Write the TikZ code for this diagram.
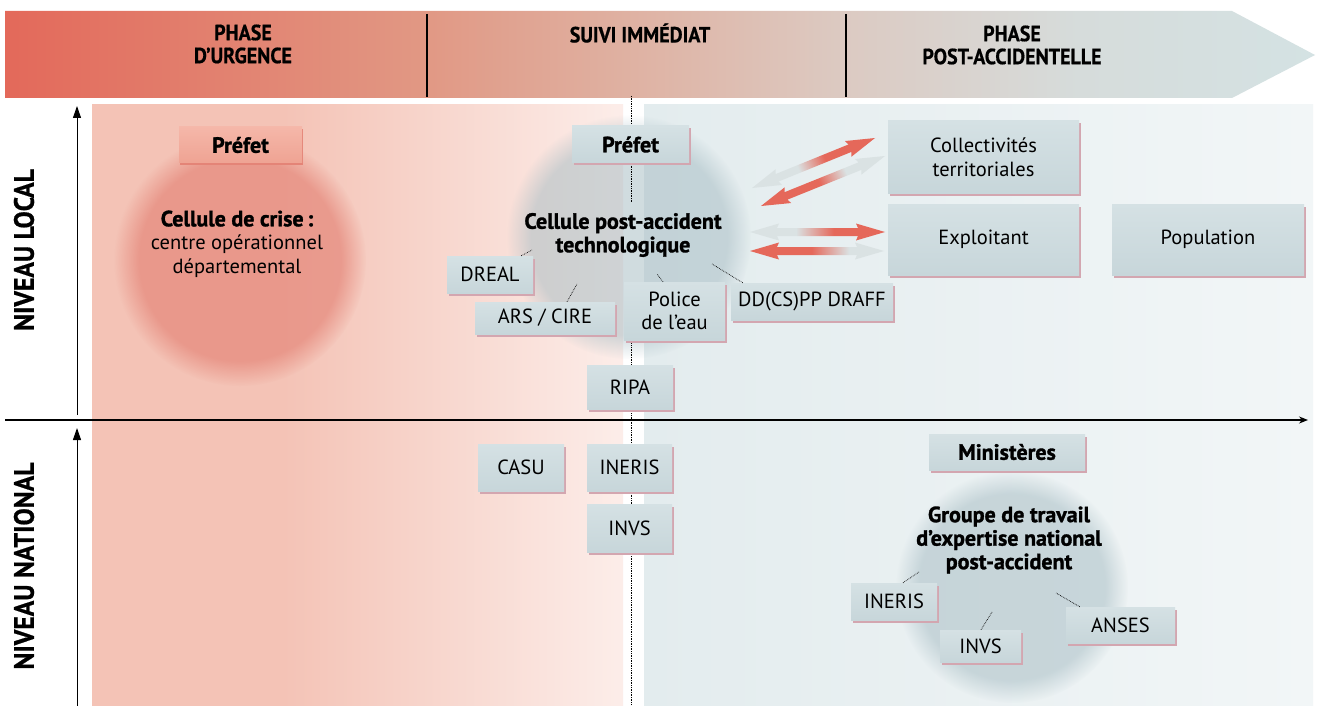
\documentclass[tikz,border=0pt]{standalone}
\usepackage{fontspec}
\setmainfont{PT Sans}
\newfontfamily\headfont[FakeStretch=0.91,FakeBold=0.6]{PT Sans}
\newfontfamily\vertfont[FakeStretch=0.92,FakeBold=0.6]{PT Sans}
\newfontfamily\heavyfont[FakeBold=1.4]{PT Sans}
\usetikzlibrary{shadows,fadings,calc,arrows.meta}
\definecolor{bn1}{HTML}{E3695A}
\definecolor{bn2}{HTML}{E19884}
\definecolor{bn3}{HTML}{DFB2A3}
\definecolor{bn4}{HTML}{DCCAC2}
\definecolor{bn5}{HTML}{D6DCDB}
\definecolor{bn6}{HTML}{D4E2E3}
\definecolor{lp1}{HTML}{F4C3B6}
\definecolor{lp2}{HTML}{FCEDE9}
\definecolor{rp1}{HTML}{E3ECEE}
\definecolor{rp2}{HTML}{F2F6F7}
\definecolor{boxtop}{HTML}{D5E1E4}
\definecolor{boxbot}{HTML}{C7D6DA}
\definecolor{boxsh}{HTML}{D3A6B0}
\definecolor{saltop}{HTML}{F5B7A9}
\definecolor{salbot}{HTML}{EFA393}
\definecolor{salsh}{HTML}{E48477}
\definecolor{ared}{HTML}{E5685A}
\definecolor{agrey}{HTML}{DAE2E3}
\definecolor{cred}{HTML}{E5877A}
\definecolor{cblue}{HTML}{A6BCC3}
\pgfdeclarehorizontalshading{banner}{100bp}{color(0bp)=(bn1); color(25bp)=(bn1); color(41bp)=(bn2); color(49bp)=(bn3); color(57bp)=(bn4); color(66bp)=(bn5); color(75bp)=(bn6); color(100bp)=(bn6)}
\pgfdeclarehorizontalshading{leftpanel}{100bp}{color(0bp)=(lp1); color(25bp)=(lp1); color(43bp)=(lp1); color(75bp)=(lp2); color(100bp)=(lp2)}
\pgfdeclarehorizontalshading{gr}{100bp}{color(0bp)=(agrey); color(42bp)=(agrey); color(56bp)=(ared); color(100bp)=(ared)}
\pgfdeclarehorizontalshading{rg}{100bp}{color(0bp)=(ared); color(48bp)=(ared); color(62bp)=(agrey); color(100bp)=(agrey)}
\newcommand\fatarrow[3]{%
  \path[#3] (#1)
    -- ($(#1)!29pt!(#2)!8.5pt!90:(#2)$)
    -- ($(#1)!27pt!(#2)!4pt!90:(#2)$)
    -- ($(#2)!27pt!(#1)!4pt!-90:(#1)$)
    -- ($(#2)!29pt!(#1)!8.5pt!-90:(#1)$)
    -- (#2)
    -- ($(#2)!29pt!(#1)!8.5pt!90:(#1)$)
    -- ($(#2)!27pt!(#1)!4pt!90:(#1)$)
    -- ($(#1)!27pt!(#2)!4pt!-90:(#2)$)
    -- ($(#1)!29pt!(#2)!8.5pt!-90:(#2)$)
    -- cycle;}
\newcommand\bodysize{\fontsize{20.5}{23.5}\selectfont}
\newcommand\heavysize{\heavyfont\bfseries\fontsize{22}{23.5}\selectfont}
\newcommand\headsize{\headfont\bfseries\fontsize{22}{23}\selectfont}
\begin{document}
\begin{tikzpicture}[x=1pt,y=-1pt,
  box/.style={rectangle, inner sep=0pt, align=center, font=\bodysize,
    top color=boxtop, bottom color=boxbot,
    general shadow={fill=boxsh, shadow xshift=1.5pt, shadow yshift=-2.5pt}},
  salbox/.style={rectangle, inner sep=0pt, align=center, font=\heavysize,
    top color=saltop, bottom color=salbot,
    general shadow={fill=salsh, shadow xshift=1pt, shadow yshift=-2.5pt}},
  dotcon/.style={densely dotted, line width=0.7pt, black},
  head/.style={font=\headsize, align=center, text=black},
  vhead/.style={font=\vertfont\bfseries\fontsize{28}{30}\selectfont, rotate=90, text=black},
  axis/.style={line width=1pt, black}]
\useasboundingbox (0,0) rectangle (1320,706);
\fill[white] (0,0) rectangle (1320,706);
% banner
\shade[shading=banner] (5,11) -- (1232,11) -- (1315,55) -- (1232,98) -- (5,98) -- cycle;
\draw[line width=1.3pt] (427,14) -- (427,97);
\draw[line width=1.3pt] (846,14) -- (846,97);
\node[head] (ph1) at (243,44) {PHASE\\D’URGENCE};
\node[head] (ph2) at (640,33) {SUIVI IMMÉDIAT};
\node[head] (ph3) at (1012,45) {PHASE\\POST-ACCIDENTELLE};
% panels
\shade[shading=leftpanel] (92,105) rectangle (623,706);
\shade[left color=rp1, right color=rp2] (644,105) rectangle (1313,706);
% circles
\fill[cred, fill opacity=0.7, path fading=circle with fuzzy edge 20 percent] (240,260) circle (126);
\fill[cblue, fill opacity=0.52, path fading=circle with fuzzy edge 20 percent] (629,237) circle (122);
\fill[cblue, fill opacity=0.52, path fading=circle with fuzzy edge 20 percent] (1012,587) circle (116);
% axes
\draw[axis, line width=1.2pt, -{Stealth[length=9pt,width=7pt]}] (5,420) -- (1308,420);
\draw[axis, -{Triangle[length=12pt,width=8pt]}] (77,415) -- (77,106);
\draw[axis, -{Triangle[length=12pt,width=8pt]}] (77,706) -- (77,428);
\node[vhead] (nl) at (24,250) {NIVEAU LOCAL};
\node[vhead] (nn) at (24,566) {NIVEAU NATIONAL};
% vertical dotted line
\coordinate (vtop) at (631,96);
\coordinate (vm1) at (631,202);
\coordinate (vm2) at (631,340);
\coordinate (vbot) at (631,706);
\draw[dotcon] (vtop) -- (vm1);
\draw[dotcon] (vm2) -- (vbot);
% fat arrows
\coordinate (a1s) at (752,188); \coordinate (a1e) at (875,138);
\coordinate (a2s) at (761,206); \coordinate (a2e) at (885,156);
\coordinate (a3s) at (750,232); \coordinate (a3e) at (885,232);
\coordinate (a4s) at (750,251); \coordinate (a4e) at (884,251);
\fatarrow{a1s}{a1e}{shade, shading=gr, shading angle=22}
\fatarrow{a2s}{a2e}{shade, shading=rg, shading angle=22}
\fatarrow{a3s}{a3e}{shade, shading=gr, shading angle=0}
\fatarrow{a4s}{a4e}{shade, shading=rg, shading angle=0}
% boxes
\node[salbox, minimum width=123pt, minimum height=36pt] (prefetL) at (240.5,145) {Préfet};
\node[box, font=\heavysize, minimum width=117pt, minimum height=37pt] (prefetM) at (630.5,144.5) {Préfet};
\node[box, minimum width=191pt, minimum height=72pt] (collect) at (983.5,157) {Collectivités\\territoriales};
\node[box, minimum width=191pt, minimum height=71pt] (exploit) at (983.5,239.5) {Exploitant};
\node[box, minimum width=192pt, minimum height=71pt] (popul) at (1208,239.5) {Population};
\node[box, minimum width=86pt, minimum height=37pt] (dreal) at (490,274.5) {DREAL};
\node[box, minimum width=140pt, minimum height=32pt] (ars) at (545,318) {ARS / CIRE};
\node[box, minimum width=101pt, minimum height=58pt] (police) at (674.5,311) {Police\\de l’eau};
\node[box, minimum width=162pt, minimum height=37pt] (ddpp) at (812,301.5) {DD(CS)PP DRAFF};
\node[box, minimum width=86pt, minimum height=44pt] (ripa) at (630,387) {RIPA};
\node[box, minimum width=86pt, minimum height=47pt] (casu) at (521,467.5) {CASU};
\node[box, minimum width=85pt, minimum height=47pt] (inerisM) at (629.5,467.5) {INERIS};
\node[box, minimum width=85pt, minimum height=48pt] (invsM) at (629.5,528) {INVS};
\node[box, minimum width=156pt, minimum height=36pt, font=\heavysize] (minist) at (1007,452) {Ministères};
\node[box, minimum width=86pt, minimum height=37pt] (inerisB) at (894,601.5) {INERIS};
\node[box, minimum width=81pt, minimum height=32pt] (invsB) at (980.5,646) {INVS};
\node[box, minimum width=109pt, minimum height=36pt] (anses) at (1120.5,625) {ANSES};
% circle texts
\node[align=center, font=\bodysize] (crise) at (237,244) {{\heavysize Cellule de crise\,:}\\centre opérationnel\\départemental};
\node[align=center, font=\heavysize] (cpat) at (623,235) {Cellule post-accident\\technologique};
\node[align=center, font=\heavysize] (gtn) at (1009,540) {Groupe de travail\\d’expertise national\\post-accident};
% dotted connectors
\draw[dotcon] ([xshift=-12pt]dreal.north east) -- (532,250);
\draw[dotcon] ([xshift=22pt]ars.north) -- (577,284);
\draw[dotcon] ([xshift=-11.5pt]police.north) -- (657,274);
\draw[dotcon] ([xshift=12pt]ddpp.north west) -- (712,264);
\draw[dotcon] ([xshift=9pt]inerisB.north) -- (919,572);
\draw[dotcon] ([xshift=0.5pt]invsB.north) -- (992,612);
\draw[dotcon] ([xshift=14pt]anses.north west) -- (1056,593);
\end{tikzpicture}
\end{document}
